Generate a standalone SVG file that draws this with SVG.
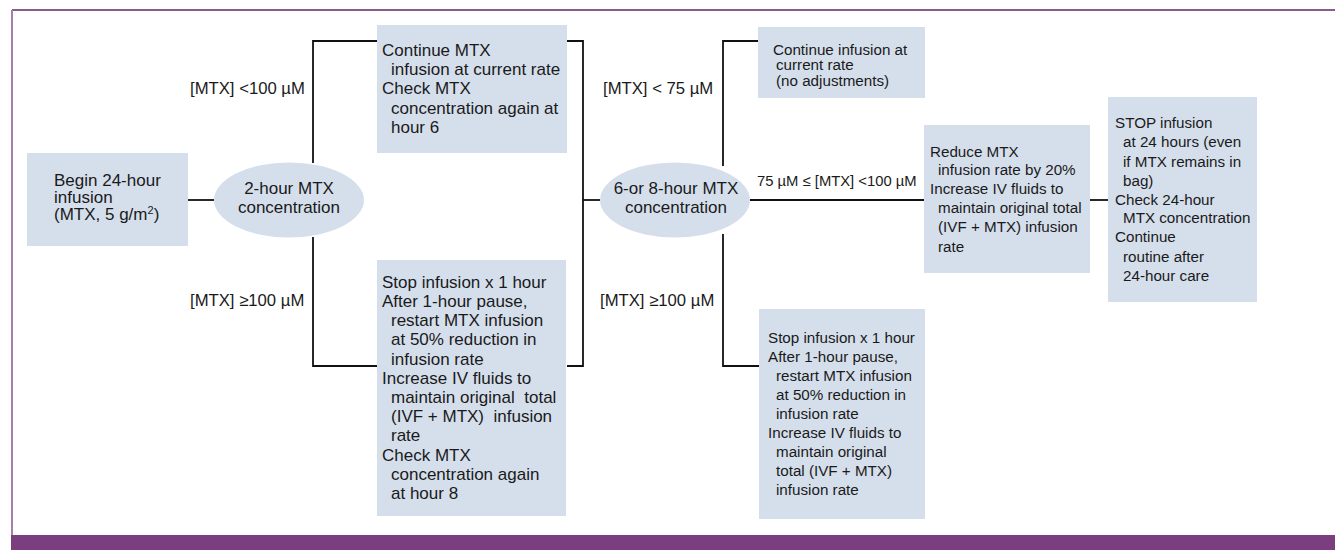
<svg xmlns="http://www.w3.org/2000/svg" width="1335" height="550" viewBox="0 0 1335 550">
<style>
.box{fill:#D5DFEC;}
.ell{fill:#D5DFEC;}
.t{font-family:"Liberation Sans",Arial,sans-serif;font-size:17px;fill:#1a1a1a;}
.s{font-family:"Liberation Sans",Arial,sans-serif;font-size:15.2px;fill:#1a1a1a;}
.lbl{font-family:"Liberation Sans",Arial,sans-serif;font-size:16.7px;fill:#1a1a1a;}
.c{fill:none;stroke:#111;stroke-width:1.8;}
</style>
<rect x="0" y="0" width="1335" height="550" fill="#ffffff"/>
<g id="frame">
<line x1="12" y1="10" x2="1335" y2="10" stroke="#8a5a91" stroke-width="2"/>
<line x1="12" y1="10" x2="12" y2="536" stroke="#a57fae" stroke-width="2"/>
<rect x="11" y="535" width="1324" height="15" fill="#7B3F7F"/>
</g>
<g id="connectors">
<line class="c" x1="188" y1="200" x2="214" y2="200"/>
<polyline class="c" points="377,41 313,41 313,163"/>
<polyline class="c" points="313,237 313,366 377,366"/>
<polyline class="c" points="567,41 583,41 583,366 567,366"/>
<line class="c" x1="583" y1="200" x2="600" y2="200"/>
<polyline class="c" points="758,41 723,41 723,166"/>
<polyline class="c" points="723,234 723,366 759,366"/>
<line class="c" x1="750" y1="200" x2="924" y2="200"/>
<line class="c" x1="1090" y1="200" x2="1108" y2="200"/>
</g>
<g id="labels">
<text class="lbl" x="190" y="94">[MTX] &lt;100 µM</text>
<text class="lbl" x="190" y="306">[MTX] ≥100 µM</text>
<text class="lbl" x="603" y="94">[MTX] &lt; 75 µM</text>
<text class="lbl" x="600" y="306">[MTX] ≥100 µM</text>
<text class="lbl" x="757" y="186" style="font-size:14.8px">75 µM ≤ [MTX] &lt;100 µM</text>
</g>
<g id="begin">
<rect class="box" x="27" y="153" width="161" height="93"/>
<text class="t" x="54" y="186">Begin 24-hour</text>
<text class="t" x="54" y="203">infusion</text>
<text class="t" x="54" y="220">(MTX, 5 g/m<tspan baseline-shift="super" font-size="11">2</tspan>)</text>
</g>
<g id="ell2h">
<ellipse class="ell" cx="289" cy="200" rx="75" ry="37.5"/>
<text class="t" x="289" y="194" text-anchor="middle">2-hour MTX</text>
<text class="t" x="289" y="213" text-anchor="middle">concentration</text>
</g>
<g id="cont1">
<rect class="box" x="377" y="25" width="190" height="128"/>
<text class="t" x="382" y="56">Continue MTX</text>
<text class="t" x="391" y="75">infusion at current rate</text>
<text class="t" x="382" y="94">Check MTX</text>
<text class="t" x="391" y="114">concentration again at</text>
<text class="t" x="391" y="133">hour 6</text>
</g>
<g id="stop1">
<rect class="box" x="377" y="260" width="189" height="256"/>
<text class="t" x="382" y="288">Stop infusion x 1 hour</text>
<text class="t" x="382" y="307">After 1-hour pause,</text>
<text class="t" x="391" y="326">restart MTX infusion</text>
<text class="t" x="391" y="345">at 50% reduction in</text>
<text class="t" x="391" y="365">infusion rate</text>
<text class="t" x="382" y="384">Increase IV fluids to</text>
<text class="t" x="391" y="403" xml:space="preserve">maintain original  total</text>
<text class="t" x="391" y="422" xml:space="preserve">(IVF + MTX)  infusion</text>
<text class="t" x="391" y="441">rate</text>
<text class="t" x="382" y="461">Check MTX</text>
<text class="t" x="391" y="480">concentration again</text>
<text class="t" x="391" y="499">at hour 8</text>
</g>
<g id="ell6h">
<ellipse class="ell" cx="675" cy="200" rx="75" ry="37.5"/>
<text class="t" x="676" y="194" text-anchor="middle">6-or 8-hour MTX</text>
<text class="t" x="676" y="213" text-anchor="middle">concentration</text>
</g>
<g id="cont2">
<rect class="box" x="758" y="27" width="167" height="71"/>
<text class="s" x="773" y="55">Continue infusion at</text>
<text class="s" x="776" y="70">current rate</text>
<text class="s" x="776" y="86">(no adjustments)</text>
</g>
<g id="reduce">
<rect class="box" x="924" y="125" width="166" height="148"/>
<text class="s" x="930" y="157">Reduce MTX</text>
<text class="s" x="938" y="175">infusion rate by 20%</text>
<text class="s" x="930" y="194">Increase IV fluids to</text>
<text class="s" x="938" y="213">maintain original total</text>
<text class="s" x="938" y="232">(IVF + MTX) infusion</text>
<text class="s" x="938" y="252">rate</text>
</g>
<g id="stop2">
<rect class="box" x="759" y="309" width="166" height="210"/>
<text class="s" x="768" y="343">Stop infusion x 1 hour</text>
<text class="s" x="768" y="362">After 1-hour pause,</text>
<text class="s" x="776" y="381">restart MTX infusion</text>
<text class="s" x="776" y="400">at 50% reduction in</text>
<text class="s" x="776" y="419">infusion rate</text>
<text class="s" x="768" y="438">Increase IV fluids to</text>
<text class="s" x="776" y="457">maintain original</text>
<text class="s" x="776" y="476">total (IVF + MTX)</text>
<text class="s" x="776" y="495">infusion rate</text>
</g>
<g id="stop24">
<rect class="box" x="1108" y="97" width="149" height="205"/>
<text class="s" x="1115" y="128">STOP infusion</text>
<text class="s" x="1123" y="147">at 24 hours (even</text>
<text class="s" x="1123" y="167">if MTX remains in</text>
<text class="s" x="1123" y="186">bag)</text>
<text class="s" x="1115" y="205">Check 24-hour</text>
<text class="s" x="1123" y="223">MTX concentration</text>
<text class="s" x="1115" y="242">Continue</text>
<text class="s" x="1123" y="262">routine after</text>
<text class="s" x="1123" y="281">24-hour care</text>
</g>
</svg>
